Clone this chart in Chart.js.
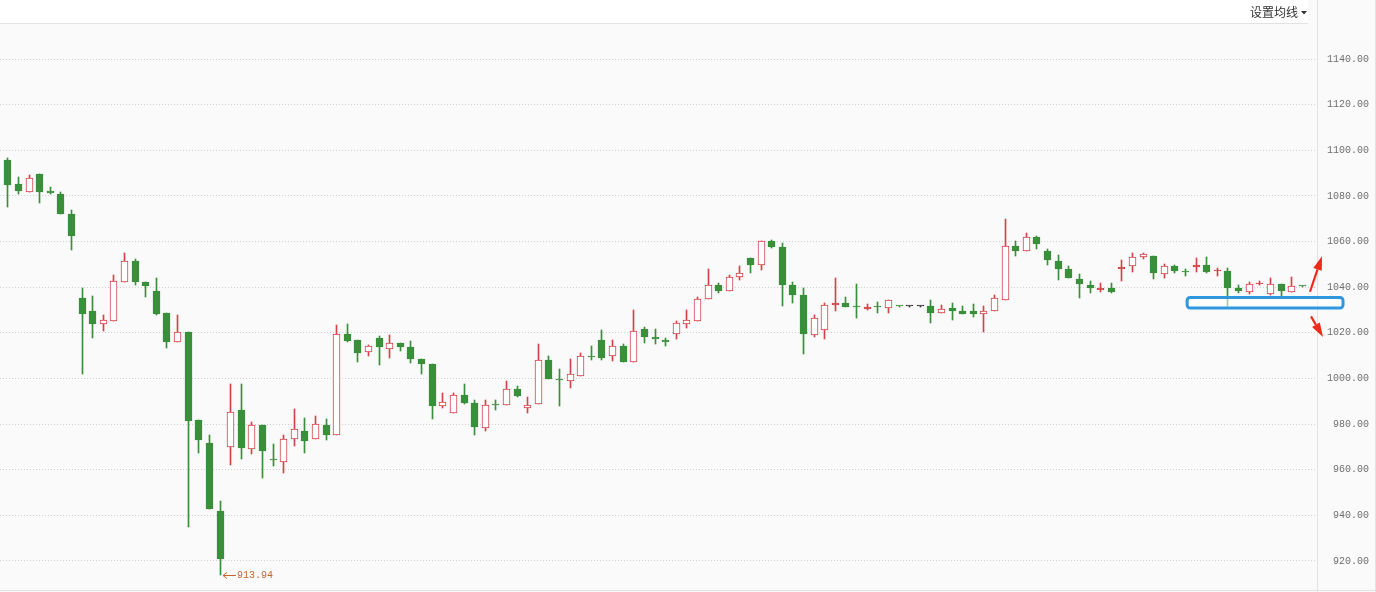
<!DOCTYPE html>
<html>
<head>
<meta charset="utf-8">
<script src="https://cdn.jsdelivr.net/npm/chart.js@4.4.1/dist/chart.umd.min.js"></script>
<style>
  html, body { margin: 0; padding: 0; background: #fafafa; }
  #wrap { position: relative; width: 1376px; height: 592px; }
</style>
</head>
<body>
<div id="wrap"><canvas id="kline"></canvas></div>
<script>
// ======================
// DADOS (OHLC diário)
// ======================
const OPEN = [
  1095.8, 1085.2, 1081.9, 1089.6, 1082.2, 1080.9, 1072.1, 1035.3, 1029.6, 1023.8,
  1025.3, 1042.4, 1051.5, 1042.3, 1038.3, 1028.7, 1015.9, 1020.4, 981.7, 971.7,
  941.9, 969.8, 986.2, 969.0, 979.6, 964.2, 963.3, 973.4, 977.0, 973.4,
  979.6, 975.1, 1019.5, 1016.9, 1011.5, 1017.7, 1012.8, 1015.6, 1013.8, 1008.5,
  1006.4, 988.1, 984.7, 992.6, 989.1, 978.3, 988.3, 988.3, 995.4, 986.9,
  988.7, 1008.0, 999.5, 998.8, 1001.2, 1009.4, 1016.7, 1009.7, 1014.2, 1007.1,
  1021.7, 1018.2, 1016.9, 1019.6, 1024.0, 1025.1, 1034.7, 1040.8, 1038.2, 1044.6,
  1052.8, 1049.6, 1060.3, 1057.6, 1040.8, 1036.6, 1018.9, 1021.4, 1032.1, 1033.1,
  1031.2, 1030.6, 1031.2, 1030.8, 1031.8, 1031.8, 1031.8, 1031.8, 1028.6, 1030.9,
  1029.6, 1029.6, 1028.1, 1029.5, 1034.5, 1057.9, 1056.0, 1061.9, 1055.7, 1051.5,
  1048.0, 1043.5, 1040.9, 1038.9, 1039.5, 1047.9, 1049.4, 1053.1, 1053.7, 1045.6,
  1049.3, 1046.8, 1048.7, 1049.7, 1047.0, 1047.1, 1039.5, 1038.0, 1041.3, 1037.0,
  1041.5, 1037.8, 1040.5
];
const HIGH = [
  1096.5, 1088.2, 1089.1, 1089.6, 1083.8, 1081.6, 1073.7, 1039.7, 1036.2, 1027.8,
  1045.4, 1055.0, 1052.4, 1042.3, 1044.0, 1028.7, 1027.8, 1020.4, 981.7, 975.2,
  946.3, 997.6, 997.6, 980.8, 979.6, 971.3, 975.2, 986.6, 982.7, 983.6,
  982.3, 1023.4, 1023.9, 1016.9, 1014.8, 1018.6, 1019.1, 1015.6, 1016.3, 1008.5,
  1006.4, 993.6, 993.5, 997.6, 990.6, 990.6, 990.4, 999.0, 996.6, 991.9,
  1015.1, 1009.9, 1004.2, 1008.5, 1011.3, 1014.2, 1021.3, 1016.7, 1015.1, 1030.0,
  1022.6, 1021.7, 1017.7, 1025.2, 1030.0, 1035.6, 1047.9, 1041.7, 1045.2, 1049.2,
  1052.8, 1060.1, 1060.7, 1059.3, 1042.4, 1039.5, 1027.8, 1033.0, 1044.2, 1035.7,
  1041.4, 1032.6, 1033.4, 1034.3, 1031.8, 1031.8, 1031.8, 1034.4, 1032.2, 1033.1,
  1031.8, 1032.6, 1031.8, 1036.5, 1069.9, 1060.1, 1063.6, 1062.5, 1056.6, 1054.0,
  1049.2, 1045.7, 1042.7, 1041.9, 1041.9, 1051.9, 1055.0, 1054.9, 1053.7, 1050.3,
  1049.7, 1047.9, 1052.7, 1053.1, 1048.3, 1048.4, 1041.0, 1042.2, 1042.9, 1044.0,
  1041.5, 1044.5, 1040.5
];
const LOW = [
  1075.0, 1081.0, 1081.9, 1077.0, 1081.0, 1072.2, 1056.4, 1002.1, 1017.9, 1020.9,
  1025.3, 1042.4, 1041.0, 1035.8, 1028.0, 1013.5, 1015.9, 935.0, 967.5, 942.9,
  913.94, 962.2, 964.9, 967.0, 956.5, 961.8, 958.5, 970.6, 967.5, 973.4,
  973.0, 975.1, 1016.1, 1007.2, 1010.0, 1006.0, 1009.1, 1012.2, 1006.9, 1002.1,
  982.4, 987.1, 984.7, 989.0, 975.1, 977.1, 986.3, 988.3, 992.0, 985.0,
  988.7, 999.9, 988.1, 996.0, 1001.0, 1008.0, 1008.0, 1007.8, 1007.4, 1007.1,
  1015.7, 1015.3, 1014.4, 1017.3, 1022.3, 1025.1, 1034.7, 1037.6, 1038.2, 1043.3,
  1046.2, 1047.7, 1057.3, 1031.8, 1033.2, 1010.9, 1018.1, 1017.3, 1029.7, 1031.5,
  1026.6, 1030.0, 1028.8, 1028.8, 1031.8, 1031.8, 1031.8, 1024.5, 1028.6, 1025.6,
  1028.4, 1027.1, 1020.5, 1029.5, 1034.5, 1053.8, 1056.0, 1056.9, 1049.9, 1043.3,
  1043.9, 1035.4, 1037.6, 1038.0, 1037.3, 1042.9, 1046.8, 1052.2, 1043.7, 1043.9,
  1046.1, 1044.9, 1046.5, 1046.1, 1044.9, 1031.9, 1037.6, 1037.2, 1040.8, 1036.6,
  1036.2, 1037.8, 1040.5
];
const CLOSE = [
  1084.9, 1082.3, 1087.7, 1081.9, 1081.4, 1072.2, 1062.6, 1028.4, 1024.0, 1025.5,
  1042.7, 1051.5, 1042.4, 1040.5, 1028.4, 1016.1, 1020.2, 981.5, 973.2, 942.9,
  921.0, 985.2, 969.7, 979.6, 968.4, 964.2, 973.4, 977.7, 972.7, 980.1,
  975.4, 1019.5, 1016.6, 1011.3, 1014.1, 1013.9, 1015.4, 1013.9, 1008.7, 1006.5,
  988.1, 989.6, 992.6, 989.3, 978.9, 988.5, 988.3, 995.3, 992.5, 988.3,
  1008.0, 999.9, 999.5, 1001.8, 1009.7, 1009.4, 1009.1, 1014.1, 1007.4, 1020.7,
  1018.3, 1017.2, 1015.9, 1024.2, 1025.5, 1034.7, 1040.8, 1038.5, 1044.4, 1046.1,
  1049.9, 1060.1, 1057.8, 1041.1, 1036.7, 1019.6, 1026.4, 1032.2, 1033.1, 1031.5,
  1031.2, 1031.3, 1031.2, 1034.3, 1031.8, 1031.8, 1031.8, 1028.6, 1030.3, 1029.7,
  1028.4, 1028.4, 1029.6, 1035.1, 1057.9, 1056.0, 1061.9, 1059.1, 1052.1, 1048.1,
  1044.2, 1041.5, 1039.8, 1039.5, 1038.0, 1048.7, 1053.1, 1054.6, 1046.1, 1049.3,
  1047.2, 1046.8, 1049.7, 1046.8, 1047.0, 1039.5, 1038.5, 1041.5, 1041.8, 1041.3,
  1038.5, 1040.7, 1040.5
];

// eixo de preços (lado direito)
const PRICE_TICKS = [920, 940, 960, 980, 1000, 1020, 1040, 1060, 1080, 1100, 1120, 1140];
const MENU_LABEL = "设置均线";

// faixa azul + setas (anotação manual do gráfico)
const BOX_LOW = 1030.9, BOX_HIGH = 1035.5, BOX_FROM = 111.2;

const UP = "#d4434a";
const DOWN = "#3a8f3a";
const FLAT = "#333333";

const el = (id) => document.getElementById(id);

function candleColor(i) {
  if (CLOSE[i] > OPEN[i]) return UP;
  if (CLOSE[i] < OPEN[i]) return DOWN;
  const prev = i > 0 ? CLOSE[i - 1] : OPEN[i];
  if (CLOSE[i] > prev) return UP;
  if (CLOSE[i] < prev) return DOWN;
  return FLAT;
}

const colors = OPEN.map((_, i) => candleColor(i));
// corpo vazado para alta, a não ser que seja fininho demais
const fills = OPEN.map((o, i) => {
  const up = CLOSE[i] > o;
  return up && (CLOSE[i] - o) > 1.2 ? "#ffffff" : colors[i];
});

const bodies = OPEN.map((o, i) => ({ x: i, y: [o, CLOSE[i]] }));
const wicks = OPEN.map((_, i) => ({ x: i, y: [LOW[i], HIGH[i]] }));

function arrow(ctx, x0, y0, x1, y1, color) {
  const ang = Math.atan2(y1 - y0, x1 - x0);
  const head = 14, half = 4.5;
  const bx = x1 - Math.cos(ang) * head, by = y1 - Math.sin(ang) * head;
  ctx.strokeStyle = color;
  ctx.fillStyle = color;
  ctx.lineWidth = 2.2;
  ctx.beginPath();
  ctx.moveTo(x0, y0);
  ctx.lineTo(bx, by);
  ctx.stroke();
  ctx.beginPath();
  ctx.moveTo(x1, y1);
  ctx.lineTo(bx + Math.sin(ang) * half, by - Math.cos(ang) * half);
  ctx.lineTo(bx - Math.sin(ang) * half, by + Math.cos(ang) * half);
  ctx.closePath();
  ctx.fill();
}

// encaixa as velas no pixel inteiro para ficar nítido
const snapPlugin = {
  id: "snapPlugin",
  beforeDatasetsDraw(chart) {
    chart.data.datasets.forEach((_, di) => {
      chart.getDatasetMeta(di).data.forEach(bar => {
        bar.x = Math.round(bar.x) + 0.5;
        const y = Math.round(bar.y), b = Math.round(bar.base);
        bar.y = y;
        bar.base = (y === b) ? b + 1 : b;
      });
    });
  }
};

const framePlugin = {
  id: "framePlugin",
  beforeDraw(chart) {
    const { ctx, chartArea: a, width, height } = chart;
    ctx.save();
    ctx.fillStyle = "#fafafa";
    ctx.fillRect(0, 0, width, height);
    ctx.fillStyle = "#ffffff";
    ctx.fillRect(0, 0, a.right - 9, a.top);
    ctx.restore();
  },
  afterDraw(chart) {
    const { ctx, chartArea: a, width, height } = chart;
    const xs = chart.scales.x, ys = chart.scales.y;
    ctx.save();

    // moldura
    ctx.strokeStyle = "#e2e2e2";
    ctx.lineWidth = 1;
    ctx.beginPath();
    ctx.moveTo(0, a.top + 0.5); ctx.lineTo(a.right - 9, a.top + 0.5);
    ctx.moveTo(Math.round(a.right) + 0.5, 0); ctx.lineTo(Math.round(a.right) + 0.5, height);
    ctx.moveTo(0, height - 1.5); ctx.lineTo(width, height - 1.5);
    ctx.moveTo(width - 0.5, 0); ctx.lineTo(width - 0.5, height);
    ctx.stroke();

    // menu "设置均线 ▾"
    ctx.fillStyle = "#333";
    ctx.font = "12px 'Noto Sans CJK SC'";
    ctx.textAlign = "right";
    ctx.textBaseline = "middle";
    ctx.fillText(MENU_LABEL, a.right - 19, 12);
    ctx.beginPath();
    ctx.moveTo(a.right - 16, 11); ctx.lineTo(a.right - 10, 11); ctx.lineTo(a.right - 13, 14.5);
    ctx.closePath();
    ctx.fill();

    // mínima do período
    let iMin = 0;
    LOW.forEach((v, i) => { if (v < LOW[iMin]) iMin = i; });
    const lx = Math.round(xs.getPixelForValue(iMin)) + 3, ly = Math.round(ys.getPixelForValue(LOW[iMin])) + 0.5;
    ctx.strokeStyle = "#c8642a";
    ctx.fillStyle = "#c8642a";
    ctx.lineWidth = 1;
    ctx.beginPath();
    ctx.moveTo(lx, ly); ctx.lineTo(lx + 13, ly);
    ctx.moveTo(lx, ly); ctx.lineTo(lx + 4, ly - 3);
    ctx.moveTo(lx, ly); ctx.lineTo(lx + 4, ly + 3);
    ctx.stroke();
    ctx.font = "10px 'Liberation Mono'";
    ctx.textAlign = "left";
    ctx.fillText(LOW[iMin].toFixed(2), lx + 14, ly);

    // faixa azul
    const bx0 = xs.getPixelForValue(BOX_FROM), bx1 = a.right + 26;
    const by0 = ys.getPixelForValue(BOX_HIGH), by1 = ys.getPixelForValue(BOX_LOW);
    ctx.beginPath();
    ctx.roundRect(bx0, by0, bx1 - bx0, by1 - by0, 3);
    ctx.fillStyle = "rgba(255,255,255,0.55)";
    ctx.fill();
    ctx.strokeStyle = "#2f97e0";
    ctx.lineWidth = 3;
    ctx.stroke();

    // setas vermelhas
    arrow(ctx, a.right - 7, ys.getPixelForValue(1038.0), a.right + 5, ys.getPixelForValue(1053.6), "#ee2a1b");
    arrow(ctx, a.right - 6, ys.getPixelForValue(1027.2), a.right + 6, ys.getPixelForValue(1018.2), "#ee2a1b");

    ctx.restore();
  }
};

new Chart(el("kline"), {
  type: "bar",
  data: {
    datasets: [
      {
        data: bodies,
        backgroundColor: fills,
        borderColor: colors,
        borderWidth: 1,
        borderSkipped: false,
        barThickness: 7,
        minBarLength: 1,
        grouped: false,
        order: 0
      },
      {
        data: wicks,
        backgroundColor: colors,
        borderWidth: 0,
        barThickness: 1,
        grouped: false,
        order: 1
      }
    ]
  },
  options: {
    responsive: true,
    maintainAspectRatio: false,
    animation: false,
    layout: { padding: { top: 23, bottom: 2, left: 0, right: 7 } },
    plugins: {
      legend: { display: false },
      tooltip: { enabled: false }
    },
    scales: {
      x: {
        type: "linear",
        offset: false,
        min: -0.688,
        max: 123.44,
        display: false
      },
      y: {
        position: "right",
        min: 907.29,
        max: 1155.78,
        afterBuildTicks(scale) {
          scale.ticks = PRICE_TICKS.map(v => ({ value: v }));
        },
        afterFit(scale) {
          scale.width = 52;
          scale.paddingTop = 0;
          scale.paddingBottom = 0;
        },
        border: { display: false, dash: [1, 2] },
        grid: { color: "#cfcfcf", drawTicks: false },
        ticks: {
          crossAlign: "far",
          padding: 4,
          color: "#6f6f6f",
          font: { family: "'Liberation Mono', monospace", size: 10 },
          callback: (v) => Number(v).toFixed(2)
        }
      }
    }
  },
  plugins: [snapPlugin, framePlugin]
});
</script>
</body>
</html>
